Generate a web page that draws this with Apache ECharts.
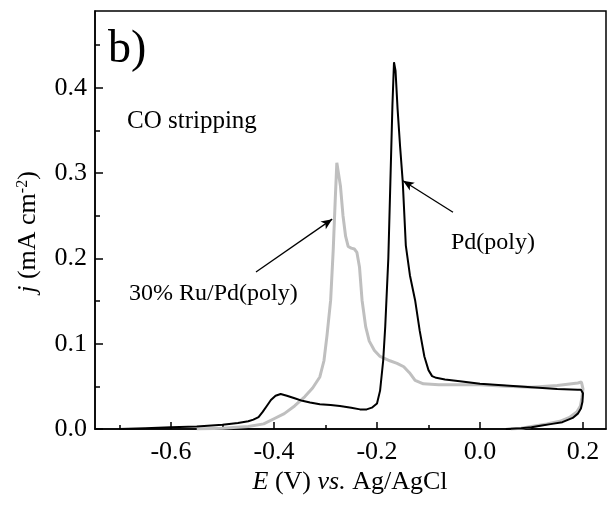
<!DOCTYPE html>
<html>
<head>
<meta charset="utf-8">
<script src="https://cdn.jsdelivr.net/npm/echarts@6/dist/echarts.min.js"></script>
<style>html,body{margin:0;padding:0;background:#fff}#c{width:607px;height:508px}</style>
</head>
<body>
<div id="c"></div>
<script>
// Pd(poly): potential (V) and current density (mA cm-2), forward then return scan
var pdE = [-0.70,-0.65,-0.60,-0.55,-0.50,-0.47,-0.45,-0.44,-0.43,-0.422,-0.414,-0.406,-0.397,-0.387,-0.375,-0.36,-0.345,-0.33,-0.311,-0.29,-0.272,-0.25,-0.233,-0.22,-0.21,-0.20,-0.194,-0.188,-0.184,-0.178,-0.174,-0.170,-0.167,-0.164,-0.160,-0.155,-0.150,-0.144,-0.136,-0.126,-0.117,-0.108,-0.100,-0.093,-0.085,-0.068,-0.039,0.00,0.05,0.10,0.15,0.19,0.196,0.200,0.199,0.196,0.19,0.18,0.16,0.14,0.12,0.10,0.08,0.05];
var pdJ = [0.000,0.001,0.002,0.003,0.005,0.007,0.009,0.011,0.014,0.020,0.027,0.034,0.039,0.041,0.039,0.036,0.033,0.031,0.029,0.028,0.027,0.025,0.023,0.023,0.025,0.030,0.045,0.080,0.120,0.200,0.290,0.380,0.430,0.420,0.375,0.330,0.290,0.215,0.180,0.151,0.115,0.085,0.069,0.062,0.060,0.058,0.056,0.053,0.051,0.049,0.047,0.046,0.046,0.042,0.032,0.024,0.018,0.013,0.008,0.006,0.004,0.002,0.001,0.000];
// 30% Ru/Pd(poly)
var ruE = [-0.55,-0.50,-0.45,-0.42,-0.40,-0.38,-0.36,-0.34,-0.325,-0.311,-0.303,-0.297,-0.29,-0.285,-0.281,-0.278,-0.275,-0.271,-0.266,-0.261,-0.256,-0.250,-0.244,-0.239,-0.234,-0.229,-0.222,-0.215,-0.205,-0.194,-0.175,-0.161,-0.148,-0.137,-0.126,-0.11,-0.08,-0.05,0.00,0.05,0.10,0.15,0.19,0.197,0.200,0.198,0.195,0.188,0.175,0.155,0.13,0.10,0.08,0.06];
var ruJ = [0.000,0.001,0.003,0.006,0.012,0.018,0.027,0.038,0.048,0.061,0.080,0.110,0.151,0.210,0.270,0.312,0.310,0.285,0.250,0.226,0.214,0.212,0.211,0.207,0.190,0.151,0.120,0.103,0.092,0.085,0.080,0.077,0.073,0.066,0.057,0.053,0.052,0.052,0.052,0.050,0.049,0.051,0.054,0.055,0.047,0.037,0.027,0.020,0.014,0.009,0.006,0.003,0.001,0.000];
var xMajor = [-0.6,-0.4,-0.2,0.0,0.2];
var xMinor = [-0.7,-0.5,-0.3,-0.1,0.1];
var yMajor = [0.0,0.1,0.2,0.3,0.4];
var yMinor = [0.05,0.15,0.25,0.35,0.45];

function pairs(a,b){var r=[];for(var i=0;i<a.length;i++)r.push([a[i],b[i]]);return r;}
var F = 'Liberation Serif';
var chart = echarts.init(document.getElementById('c'));
var xMin=-0.7476, xMax=0.2447, yMin=0, yMax=0.49;
function xAx(vals, len, labels){
  return {type:'value',min:xMin,max:xMax,position:'bottom',
    axisLine:{show:labels,onZero:false,lineStyle:{color:'#000',width:1.5}},
    axisTick:{show:true,inside:true,length:len,customValues:vals,lineStyle:{color:'#000',width:1.5}},
    axisLabel:{show:labels,customValues:vals,margin:10,color:'#000',fontFamily:F,fontSize:26,formatter:function(v){return v.toFixed(1);}},
    splitLine:{show:false}};
}
function yAx(vals, len, labels){
  return {type:'value',min:yMin,max:yMax,position:'left',
    axisLine:{show:labels,onZero:false,lineStyle:{color:'#000',width:1.5}},
    axisTick:{show:true,inside:true,length:len,customValues:vals,lineStyle:{color:'#000',width:1.5}},
    axisLabel:{show:labels,customValues:vals,margin:8,color:'#000',fontFamily:F,fontSize:26,formatter:function(v){return v.toFixed(1);}},
    splitLine:{show:false}};
}
chart.setOption({
  animation:false,
  grid:{left:95,right:1,top:11,bottom:79,show:true,borderColor:'#000',borderWidth:1.5,containLabel:false},
  xAxis:[xAx(xMajor,7,true),xAx(xMinor,4,false)],
  yAxis:[yAx(yMajor,8,true),yAx(yMinor,5,false)],
  series:[
    {type:'line',name:'30% Ru/Pd(poly)',data:pairs(ruE,ruJ),showSymbol:false,smooth:false,
     lineStyle:{color:'#bfbfbf',width:3},z:2},
    {type:'line',name:'Pd(poly)',data:pairs(pdE,pdJ),showSymbol:false,smooth:false,
     lineStyle:{color:'#000',width:2},z:3,
     markLine:{silent:true,symbol:['none','arrow'],symbolSize:[7,11],label:{show:false},
       lineStyle:{color:'#000',width:1.3,type:'solid'},
       data:[
         [{coord:[-0.0524,0.254]},{coord:[-0.1495,0.291]}],
         [{coord:[-0.435,0.184]},{coord:[-0.287,0.246]}]
       ]}}
  ],
  graphic:[
    {type:'text',x:108,y:50,style:{text:'b)',font:'46px "Liberation Serif"',fill:'#000',textVerticalAlign:'middle'}},
    {type:'text',x:127,y:121,style:{text:'CO stripping',font:'25px "Liberation Serif"',fill:'#000',textVerticalAlign:'middle'}},
    {type:'text',x:451,y:243,style:{text:'Pd(poly)',font:'24px "Liberation Serif"',fill:'#000',textVerticalAlign:'middle'}},
    {type:'text',x:129,y:294,style:{text:'30% Ru/Pd(poly)',font:'24px "Liberation Serif"',fill:'#000',textVerticalAlign:'middle'}},
    {type:'text',x:350,y:482,style:{text:'{i|E} (V) {i|vs.} Ag/AgCl',fontFamily:F,fontSize:26,fill:'#000',
      textAlign:'center',textVerticalAlign:'middle',
      rich:{i:{fontFamily:F,fontSize:26,fontStyle:'italic'}}}},
    {type:'text',x:28,y:232,rotation:Math.PI/2,style:{text:'{i|j} (mA cm{s|-2})',fontFamily:F,fontSize:26,fill:'#000',
      textAlign:'center',textVerticalAlign:'middle',
      rich:{i:{fontFamily:F,fontSize:26,fontStyle:'italic'},s:{fontFamily:F,fontSize:16,verticalAlign:'top',padding:[0,0,10,0]}}}}
  ]
});
</script>
</body>
</html>
